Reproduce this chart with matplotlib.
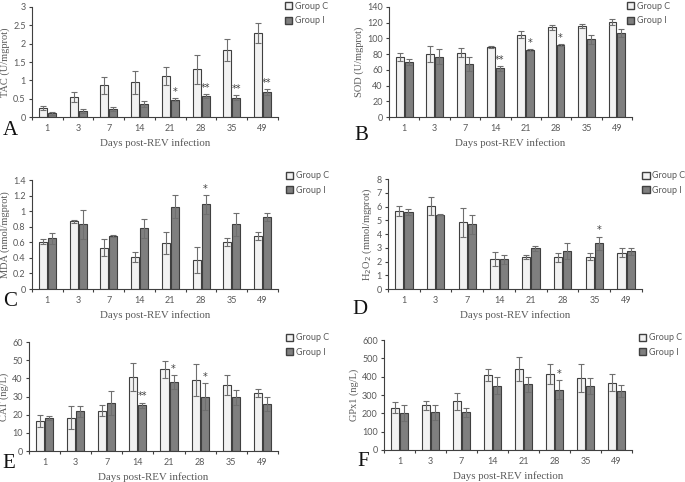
import numpy as np
import matplotlib
matplotlib.use("Agg")
import matplotlib.pyplot as plt
from matplotlib.patches import Patch

days = ["1", "3", "7", "14", "21", "28", "35", "49"]

# A - TAC
tac_c = [0.25, 0.55, 0.87, 0.95, 1.12, 1.30, 1.83, 2.30]
tac_c_err = [0.05, 0.13, 0.23, 0.31, 0.25, 0.40, 0.30, 0.27]
tac_i = [0.10, 0.16, 0.22, 0.36, 0.48, 0.57, 0.53, 0.68]
tac_i_err = [0.03, 0.06, 0.05, 0.09, 0.03, 0.06, 0.06, 0.08]
tac_sig = ["", "", "", "", "*", "**", "**", "**"]

# B - SOD
sod_c = [76, 80, 82, 89, 105, 114, 116, 121]
sod_c_err = [5, 10, 6, 1.5, 4, 3, 3, 4]
sod_i = [70, 77, 68, 62, 85, 92, 99, 107]
sod_i_err = [4, 9, 9, 3, 1, 1, 6, 5]
sod_sig = ["", "", "", "**", "*", "*", "", ""]

# C - MDA
mda_c = [0.61, 0.87, 0.53, 0.41, 0.59, 0.37, 0.60, 0.68]
mda_c_err = [0.03, 0.02, 0.11, 0.06, 0.14, 0.17, 0.05, 0.05]
mda_i = [0.65, 0.83, 0.68, 0.78, 1.06, 1.09, 0.83, 0.93]
mda_i_err = [0.07, 0.19, 0.01, 0.12, 0.15, 0.12, 0.15, 0.05]
mda_sig = ["", "", "", "", "", "*", "", ""]

# D - H2O2
h2o2_c = [5.7, 6.05, 4.85, 2.2, 2.3, 2.3, 2.35, 2.65]
h2o2_c_err = [0.35, 0.65, 1.05, 0.5, 0.15, 0.35, 0.25, 0.3]
h2o2_i = [5.62, 5.42, 4.72, 2.15, 2.95, 2.75, 3.32, 2.75]
h2o2_i_err = [0.2, 0.05, 0.7, 0.35, 0.15, 0.6, 0.5, 0.25]
h2o2_sig = ["", "", "", "", "", "", "*", ""]

# E - CAT
cat_c = [16.5, 18.3, 22.3, 40.5, 45, 39, 36.5, 32]
cat_c_err = [3.3, 6.3, 3, 7.7, 4.8, 8.7, 5.5, 2]
cat_i = [18.2, 21.8, 26.3, 25.2, 38, 30, 29.5, 25.8]
cat_i_err = [1.2, 3.2, 6.5, 1.5, 3.8, 7.5, 4.3, 3.7]
cat_sig = ["", "", "", "**", "*", "*", "", ""]

# F - GPx1
gpx_c = [230, 245, 265, 410, 440, 415, 395, 368]
gpx_c_err = [30, 25, 48, 32, 65, 57, 77, 48]
gpx_i = [203, 205, 205, 352, 358, 330, 350, 322]
gpx_i_err = [45, 43, 27, 48, 42, 50, 43, 35]
gpx_sig = ["", "", "", "", "", "*", "", ""]

light = "#f2f2f2"
dark = "#7f7f7f"
edge = "#404040"
txt = "#595959"

fig = plt.figure(figsize=(6.85, 4.82), dpi=100)

panels = [
    # letter, c, cerr, i, ierr, sig, ylabel, ymax, ystep, axes rect, legend pos, letter pos
    ("A", tac_c, tac_c_err, tac_i, tac_i_err, tac_sig, "TAC (U/mgprot)", 3, 0.5,
     [0.0467, 0.757, 0.359, 0.2285], (0.413, 1.0), (0.004, 0.72)),
    ("B", sod_c, sod_c_err, sod_i, sod_i_err, sod_sig, "SOD (U/mgprot)", 140, 20,
     [0.568, 0.757, 0.3547, 0.2285], (0.913, 1.0), (0.517, 0.71)),
    ("C", mda_c, mda_c_err, mda_i, mda_i_err, mda_sig, "MDA (nmol/mgprot)", 1.4, 0.2,
     [0.0467, 0.4004, 0.359, 0.226], (0.415, 0.648), (0.004, 0.365)),
    ("D", h2o2_c, h2o2_c_err, h2o2_i, h2o2_i_err, h2o2_sig,
     "H$_2$O$_2$ (mmol/mgprot)", 8, 1,
     [0.5664, 0.4004, 0.3708, 0.228], (0.935, 0.648), (0.515, 0.348)),
    ("E", cat_c, cat_c_err, cat_i, cat_i_err, cat_sig, "CAT (ng/L)", 60, 10,
     [0.0423, 0.0643, 0.3635, 0.226], (0.415, 0.312), (0.004, 0.03)),
    ("F", gpx_c, gpx_c_err, gpx_i, gpx_i_err, gpx_sig, "GPx1 (ng/L)", 600, 100,
     [0.5606, 0.0664, 0.362, 0.228], (0.930, 0.312), (0.522, 0.034)),
]

x = np.arange(len(days))
w = 0.26
off = 0.145

for letter, c, ce, iv, ie, sig, ylab, ymax, ystep, rect, legpos, letpos in panels:
    ax = fig.add_axes(rect)
    ekw = dict(ecolor="#6f6f6f", elinewidth=0.8, capsize=2.2, capthick=0.8)
    ax.bar(x - off, c, w, yerr=ce, color=light, edgecolor=edge, linewidth=0.8,
           error_kw=ekw)
    ax.bar(x + off, iv, w, yerr=ie, color=dark, edgecolor=edge, linewidth=0.8,
           error_kw=ekw)
    for k, s in enumerate(sig):
        if s:
            ax.text(x[k] + off, iv[k] + ie[k] + ymax * 0.01, s, ha="center",
                    va="bottom", fontsize=7, color="#404040")
    ax.set_xlim(-0.5, len(days) - 0.5)
    ax.set_ylim(0, ymax)
    yt = np.arange(0, ymax + ystep / 2, ystep)
    ax.set_yticks(yt)
    ax.set_yticklabels(["%g" % v for v in yt], family="Lato")
    ax.set_xticks(x)
    ax.set_xticklabels(days, family="Lato")
    ax.set_xticks(np.arange(-0.5, len(days) - 0.4, 1), minor=True)
    ax.tick_params(axis="x", which="major", length=0, labelsize=6.5, colors=txt, pad=5)
    ax.tick_params(axis="x", which="minor", length=2.5, color=edge, width=0.8)
    ax.tick_params(axis="y", length=2.5, width=0.8, labelsize=6.5, colors=txt,
                   color=edge, pad=2)
    for sp in ["top", "right"]:
        ax.spines[sp].set_visible(False)
    for sp in ["left", "bottom"]:
        ax.spines[sp].set_color(edge)
        ax.spines[sp].set_linewidth(0.8)
    ax.set_ylabel(ylab, family="Liberation Serif", fontsize=7.5, color=txt, labelpad=2)
    ax.set_xlabel("Days post-REV infection", family="Liberation Serif", fontsize=7.8,
                  color=txt, labelpad=4)
    handles = [Patch(facecolor=light, edgecolor=edge, label="Group C"),
               Patch(facecolor=dark, edgecolor=edge, label="Group I")]
    leg = fig.legend(handles=handles, loc="upper left", bbox_to_anchor=legpos,
                     frameon=False, prop={"family": "Lato", "size": 6.5},
                     handlelength=0.8, handleheight=0.8,
                     handletextpad=0.3, labelspacing=0.6, borderpad=0.2,
                     borderaxespad=0)
    for t in leg.get_texts():
        t.set_color(txt)
    fig.text(letpos[0], letpos[1], letter, family="Liberation Serif", fontsize=15,
             color="#111111")

fig.savefig("out.png", dpi=100)
